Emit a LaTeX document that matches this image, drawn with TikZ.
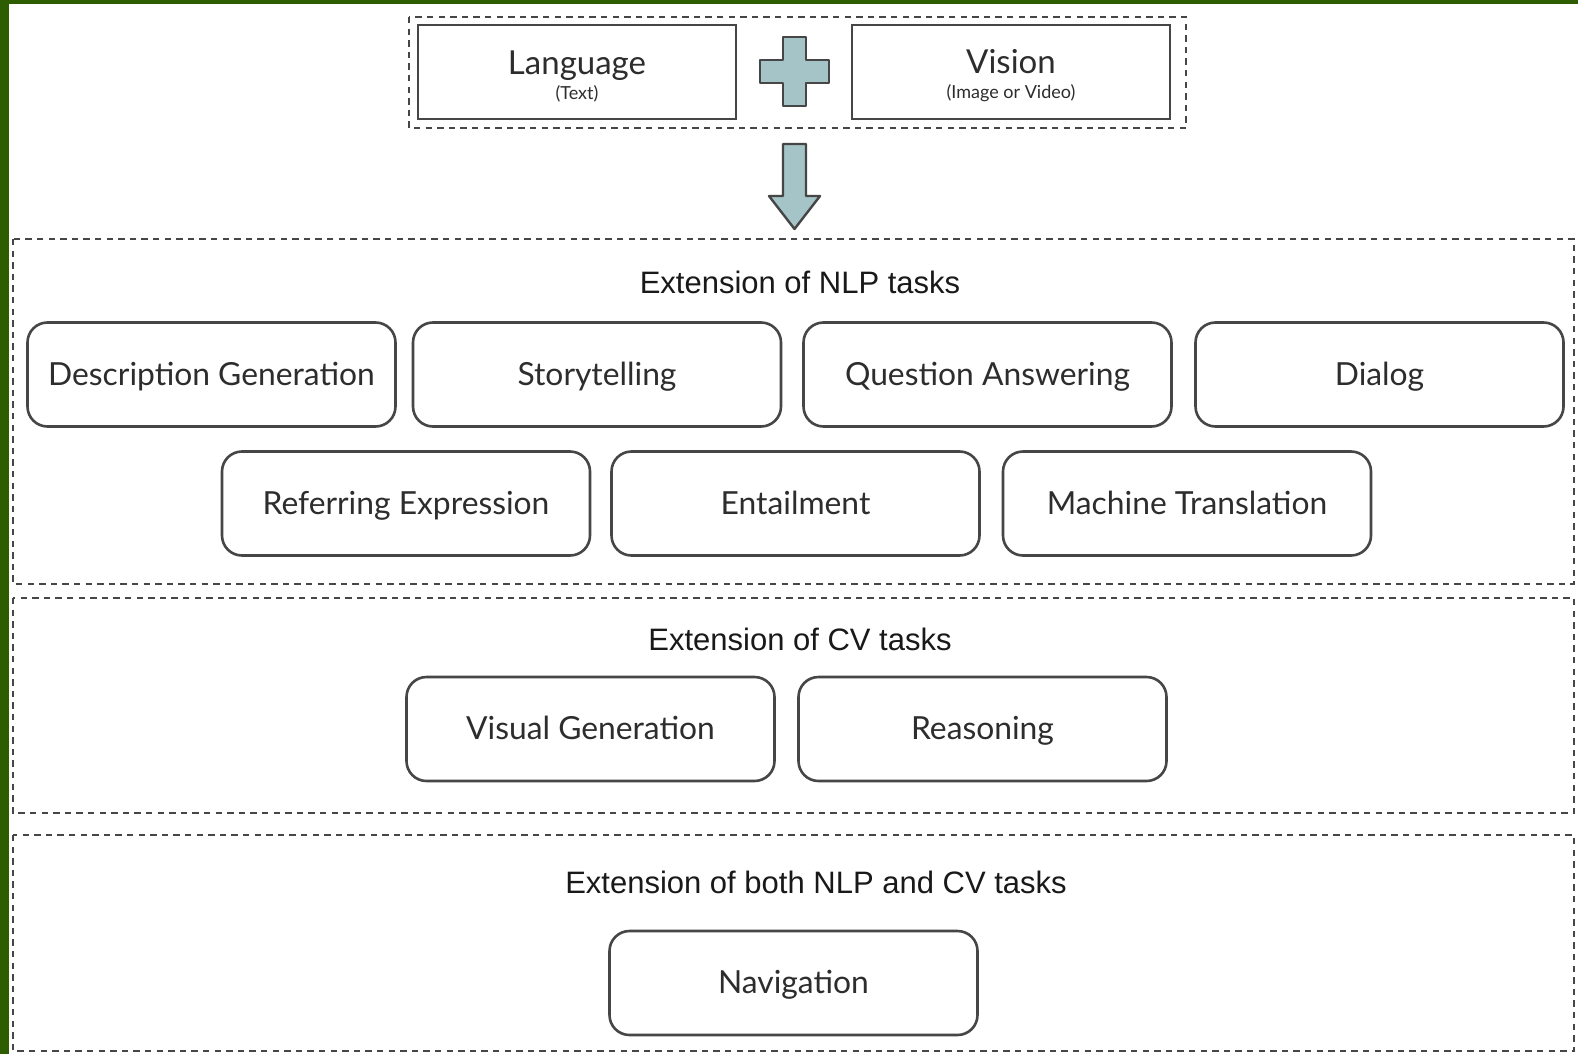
\documentclass[tikz,border=0pt]{standalone}
\usepackage{fontspec}
\setmainfont{Lato}
\newfontfamily\titlefont{Liberation Sans}
\usetikzlibrary{positioning}
\definecolor{framegreen}{RGB}{46,92,0}
\definecolor{boxline}{RGB}{70,70,70}
\definecolor{txtgray}{RGB}{45,45,45}
\definecolor{plusfill}{RGB}{164,196,200}

\tikzset{
  taskbox/.style={draw=boxline, line width=1.3pt, rounded corners=10pt,
    minimum width=184pt, minimum height=52pt, text=txtgray,
    text height=12.5pt, text depth=2pt,
    font=\fontsize{15.9}{18}\selectfont},
  inputbox/.style={draw=boxline, line width=1.3pt, minimum width=159pt,
    minimum height=47pt, align=center, text=txtgray},
  groupbox/.style={draw=boxline, line width=1.3pt, dash pattern=on 3.2pt off 2.6pt},
  grouptitle/.style={text=black!90, font=\titlefont\fontsize{15.5}{18}\selectfont},
  blockshape/.style={draw=boxline, line width=1.2pt, fill=plusfill, line join=round},
}

\begin{document}
\begin{tikzpicture}[x=0.5pt,y=-0.5pt]
    \useasboundingbox (0,0) rectangle (1578,1054);
    \fill[framegreen] (0,0) rectangle (1578,1054);
    \fill[white] (9,4) rectangle (1578,1054);

    % input: language + vision
    \draw[groupbox] (409,17) rectangle (1186,128);
    \node[inputbox] (lang) at (577,72) {\fontsize{16.5}{18}\selectfont\rule{0pt}{16pt}Language\\[0.5pt]{\fontsize{9}{10}\selectfont (Text)}};
    \node[inputbox] (vision) at (1011,72) {\fontsize{16.5}{18}\selectfont\rule{0pt}{16pt}Vision\\[0.5pt]{\fontsize{9}{10}\selectfont (Image or Video)}};
    \draw[blockshape] (783,37) -- (806,37) -- (806,60) -- (829,60) -- (829,83) -- (806,83)
        -- (806,106) -- (783,106) -- (783,83) -- (760,83) -- (760,60) -- (783,60) -- cycle;

    % down arrow
    \draw[blockshape] (783,144) -- (806,144) -- (806,196) -- (820,196) -- (794.5,229)
        -- (769,196) -- (783,196) -- cycle;

    % NLP tasks
    \draw[groupbox] (13,239) rectangle (1574,584);
    \node[grouptitle] (nlptitle) at (800,282) {Extension of NLP tasks};
    \node[taskbox] (desc) at (211.5,374.5) {Description Generation};
    \node[taskbox] (story) at (597,374.5) {Storytelling};
    \node[taskbox] (qa) at (987.5,374.5) {Question Answering};
    \node[taskbox] (dialog) at (1379.5,374.5) {Dialog};
    \node[taskbox] (refexp) at (406,503.5) {Referring Expression};
    \node[taskbox] (entail) at (795.5,503.5) {Entailment};
    \node[taskbox] (mt) at (1187,503.5) {Machine Translation};

    % CV tasks
    \draw[groupbox] (13,598) rectangle (1574,813);
    \node[grouptitle] (cvtitle) at (800,639) {Extension of CV tasks};
    \node[taskbox] (visgen) at (590.5,729) {Visual Generation};
    \node[taskbox] (reason) at (982.5,729) {Reasoning};

    % both
    \draw[groupbox] (13,835) rectangle (1574,1051);
    \node[grouptitle] (bothtitle) at (816,882) {Extension of both NLP and CV tasks};
    \node[taskbox] (nav) at (793.5,983) {Navigation};
\end{tikzpicture}
\end{document}
